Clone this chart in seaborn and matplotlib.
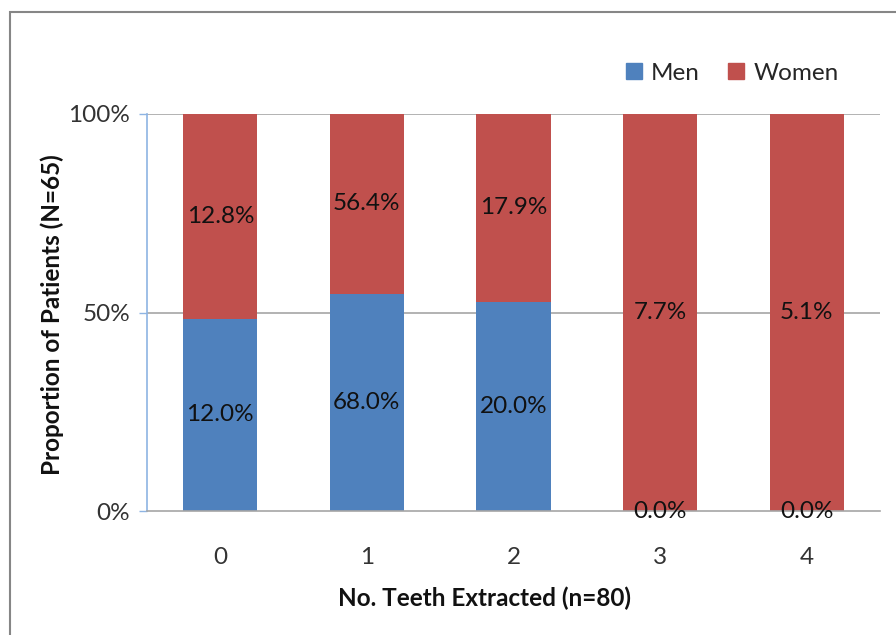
import pandas as pd
import matplotlib
matplotlib.use("Agg")
import matplotlib.pyplot as plt
from matplotlib.patches import Rectangle
from matplotlib.lines import Line2D
import seaborn as sns

# ── data (percent of each sex) ──────────────────────────────────────────────
teeth = ["0", "1", "2", "3", "4"]
men_pct = [12.0, 68.0, 20.0, 0.0, 0.0]
women_pct = [12.8, 56.4, 17.9, 7.7, 5.1]

MEN_COL = "#4F81BD"
WOMEN_COL = "#C0504D"
GRID_COL = "#A6A6A6"

sns.set_theme(style="white")
plt.rcParams["font.family"] = ["Lato", "DejaVu Sans"]

df = pd.DataFrame({"teeth": teeth, "men": men_pct, "women": women_pct})
# 100% stack: share of men among the two group percentages
df["men_share"] = df["men"] / (df["men"] + df["women"])
df["total"] = 1.0

fig = plt.figure(figsize=(8.96, 6.35), dpi=100)
ax = fig.add_axes([147 / 896, 1 - 511 / 635, (880 - 147) / 896, (511 - 114) / 635])

# women fill the full bar, men drawn over the lower part
sns.barplot(data=df, x="teeth", y="total", color=WOMEN_COL, width=0.505,
            saturation=1, linewidth=0, ax=ax)
sns.barplot(data=df, x="teeth", y="men_share", color=MEN_COL, width=0.505,
            saturation=1, linewidth=0, ax=ax)

for i, row in df.iterrows():
    share = row["men_share"]
    ax.text(i, (1 + share) / 2, f"{row['women']:.1f}%", ha="center",
            va="center", fontsize=17.5, color="#111111")
    ax.text(i, share / 2, f"{row['men']:.1f}%", ha="center",
            va="center", fontsize=17.5, color="#111111")

ax.set_ylim(0, 1)
ax.set_xlim(-0.5, 4.5)
ax.set_yticks([0, 0.5, 1.0])
ax.set_yticklabels(["0%", "50%", "100%"])
for y in [0.5, 1.0]:
    ax.axhline(y, color=GRID_COL, lw=1.2, zorder=0)
ax.tick_params(axis="y", which="both", left=True, length=6, width=1,
               color="#8EB4E3", labelsize=17.5, pad=6, labelcolor="#333333")
ax.tick_params(axis="x", bottom=False, labelsize=17.5, pad=20,
               labelcolor="#333333")
for s in ["top", "right"]:
    ax.spines[s].set_visible(False)
ax.spines["left"].set_color("#8EB4E3")
ax.spines["left"].set_linewidth(1.2)
ax.spines["bottom"].set_color(GRID_COL)
ax.spines["bottom"].set_linewidth(1.2)

ax.set_ylabel("Proportion of Patients (N=65)", fontsize=17.5, fontweight="bold",
              color="#111111")
ax.yaxis.set_label_coords(-(147 - 52) / 733, 0.494)
ax.set_xlabel("No. Teeth Extracted (n=80)", fontsize=17.5, fontweight="bold",
              color="#111111")
ax.xaxis.set_label_coords((484 - 147) / 733, -(598 - 511) / 397)
ax.xaxis.label.set_va("center")
ax.yaxis.label.set_va("center")

handles = [Line2D([], [], marker="s", ls="", color=MEN_COL, markersize=12),
           Line2D([], [], marker="s", ls="", color=WOMEN_COL, markersize=12)]
fig.legend(handles, ["Men", "Women"], loc="center", bbox_to_anchor=(730 / 896, 1 - 73 / 635),
           ncol=2, frameon=False, fontsize=17.5, handletextpad=0.2,
           columnspacing=1.0, handlelength=1.0)

# chart frame (cropped at right and bottom)
fig.add_artist(Rectangle((10 / 896, -0.1), 1.2, 1 - 12 / 635 + 0.1,
                         transform=fig.transFigure, fill=False,
                         ec="#868686", lw=1.5))

fig.savefig("out.png", dpi=100)
